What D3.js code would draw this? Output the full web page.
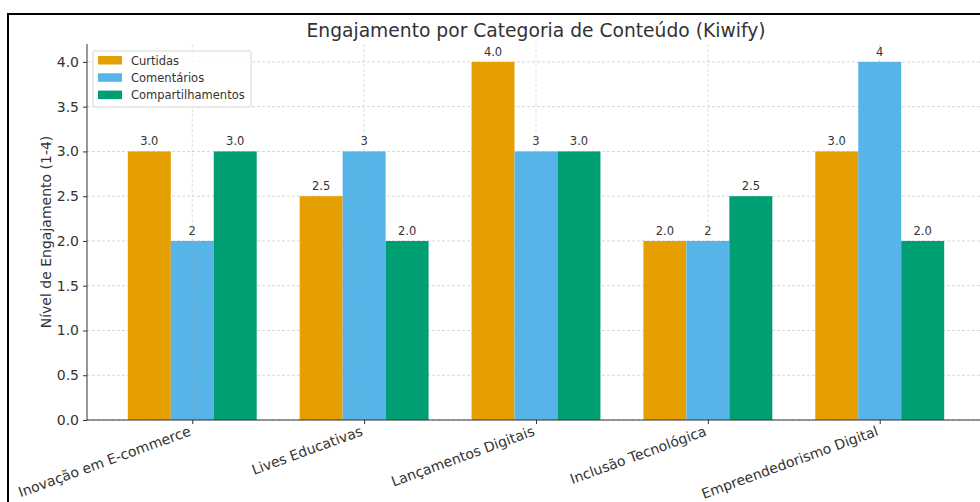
<!DOCTYPE html>
<html><head><meta charset="utf-8">
<script src="https://cdn.jsdelivr.net/npm/d3@7"></script>
<style>body{margin:0;background:#fff}svg{display:block;font-family:"DejaVu Sans",sans-serif}</style>
</head><body><svg id="c" width="980" height="502"></svg>
<script>
const categories = ["Inovação em E-commerce","Lives Educativas","Lançamentos Digitais","Inclusão Tecnológica","Empreendedorismo Digital"];
const seriesNames = ["Curtidas","Comentários","Compartilhamentos"];
const curtidas = [3.0,2.5,4.0,2.0,3.0];
const comentarios = [2,3,3,2,4];
const compartilhamentos = [3.0,2.0,3.0,2.5,2.0];
const valueLabels = [
  ["3.0","2.5","4.0","2.0","3.0"],
  ["2","3","3","2","4"],
  ["3.0","2.0","3.0","2.5","2.0"]
];
const yTicks = [0,0.5,1.0,1.5,2.0,2.5,3.0,3.5,4.0];
const colors = ["#E69F00","#56B4E9","#009E73"];
const series = [curtidas, comentarios, compartilhamentos];

const svg = d3.select("#c");
const L = 87, R = 985, T = 44, B = 420;
const barW = 0.25;
const x = d3.scaleLinear().domain([-0.6125, 4.6125]).range([L, R]);
const y = d3.scaleLinear().domain([0, 4.2]).range([B, T]);
const txt = "#333";

// figure frame
svg.append("path").attr("d","M8,502 L8,14 L980,14").attr("fill","none").attr("stroke","#000").attr("stroke-width",2);

// horizontal grid
svg.append("g").selectAll("line").data(yTicks).join("line")
  .attr("x1",L).attr("x2",R).attr("y1",d=>y(d)).attr("y2",d=>y(d))
  .attr("stroke","#ccc").attr("stroke-width",0.8).attr("stroke-dasharray","3,2");

// bars
series.forEach((vals, si) => {
  const off = (si - 1) * barW;
  svg.append("g").selectAll("rect").data(vals).join("rect")
    .attr("x", (d,i)=> x(i + off - barW/2))
    .attr("width", x(barW) - x(0))
    .attr("y", d=> y(d))
    .attr("height", d=> y(0) - y(d))
    .attr("fill", colors[si]);
  svg.append("g").selectAll("text").data(vals).join("text")
    .attr("x", (d,i)=> x(i + off))
    .attr("y", d=> y(d) - 6)
    .attr("text-anchor","middle").attr("font-size","11.5px").attr("fill",txt)
    .text((d,i)=> valueLabels[si][i]);
});

// vertical grid (drawn over bars faintly)
svg.append("g").selectAll("line").data(categories).join("line")
  .attr("x1",(d,i)=>x(i)).attr("x2",(d,i)=>x(i)).attr("y1",T).attr("y2",B)
  .attr("stroke","#aaa").attr("stroke-opacity",0.45).attr("stroke-width",0.8).attr("stroke-dasharray","3,2");

// axes
const yAxis = d3.axisLeft(y).tickValues(yTicks).tickFormat(d3.format(".1f")).tickSize(4).tickPadding(4);
const ya = svg.append("g").attr("transform",`translate(${L},0)`).call(yAxis);
ya.select(".domain").attr("d",`M0,${T}V${B}`).attr("stroke",txt);
ya.selectAll(".tick line").attr("stroke",txt);
ya.selectAll(".tick text").attr("font-size","14px").attr("fill",txt).attr("font-family","DejaVu Sans");

const xAxis = d3.axisBottom(x).tickValues(categories.map((d,i)=>i)).tickFormat(i=>categories[i]).tickSize(4);
const xa = svg.append("g").attr("transform",`translate(0,${B})`).call(xAxis);
xa.select(".domain").attr("d",`M${L},0H${R}`).attr("stroke",txt);
xa.selectAll(".tick line").attr("stroke",txt);
xa.selectAll(".tick text").attr("font-size","14px").attr("fill",txt).attr("font-family","DejaVu Sans")
  .attr("text-anchor","end").attr("dy",null).attr("y",null)
  .attr("transform","translate(-1,15) rotate(-20)");

// title
svg.append("text").attr("x",(L+R)/2).attr("y",37).attr("text-anchor","middle")
  .attr("font-size","18.7px").attr("fill",txt).text("Engajamento por Categoria de Conteúdo (Kiwify)");

// y label
svg.append("text").attr("transform",`translate(51,${(T+B)/2}) rotate(-90)`).attr("text-anchor","middle")
  .attr("font-size","14px").attr("fill",txt).text("Nível de Engajamento (1-4)");

// legend
const lg = svg.append("g");
lg.append("rect").attr("x",93).attr("y",51).attr("width",158).attr("height",56).attr("rx",2)
  .attr("fill","#fff").attr("fill-opacity",0.8).attr("stroke","#ccc").attr("stroke-width",0.8);
seriesNames.forEach((n,i)=>{
  lg.append("rect").attr("x",98).attr("y",56 + i*17.3).attr("width",24).attr("height",8.5).attr("fill",colors[i]);
  lg.append("text").attr("x",131).attr("y",64.5 + i*17.3).attr("font-size","11.5px").attr("fill",txt).text(n);
});
</script></body></html>
